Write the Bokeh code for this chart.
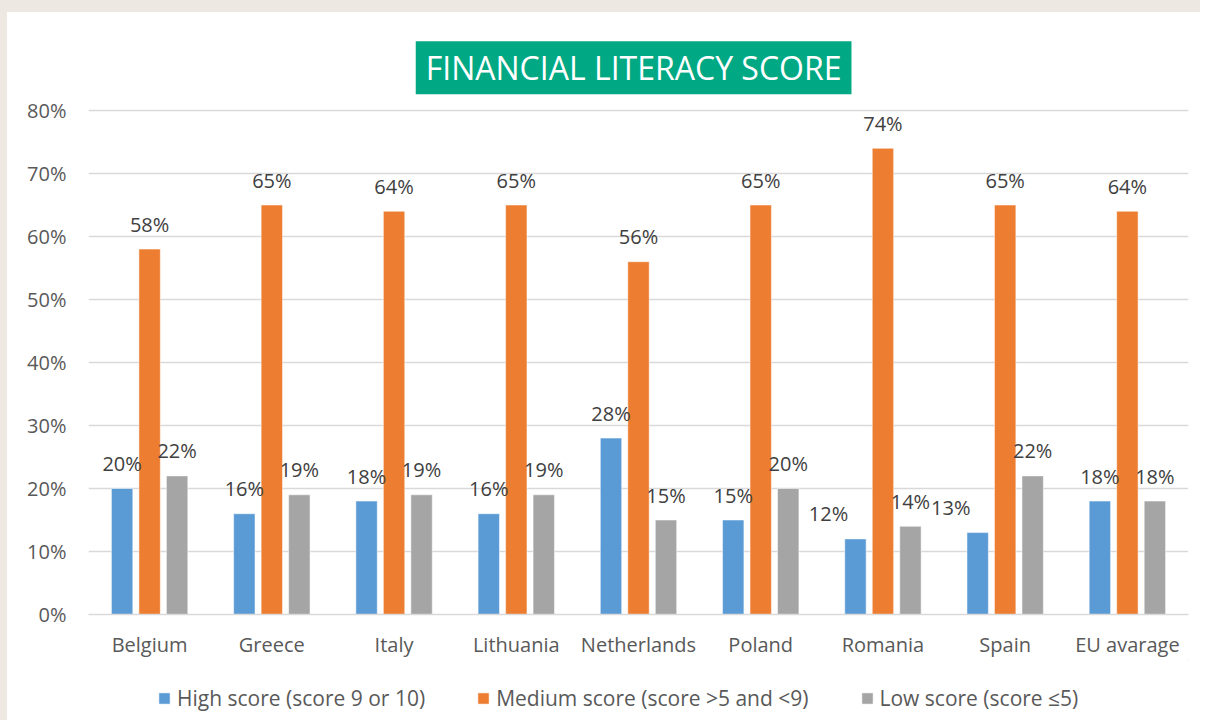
from bokeh.plotting import figure
from bokeh.layouts import column
from bokeh.models import ColumnDataSource, FactorRange, Legend, LegendItem, Label, NumeralTickFormatter, Range1d
from bokeh.transform import dodge
from bokeh.core.properties import value
from bokeh.embed import file_html
from bokeh.resources import INLINE

countries = ["Belgium", "Greece", "Italy", "Lithuania", "Netherlands", "Poland", "Romania", "Spain", "EU avarage"]
high = [0.20, 0.16, 0.18, 0.16, 0.28, 0.15, 0.12, 0.13, 0.18]
medium = [0.58, 0.65, 0.64, 0.65, 0.56, 0.65, 0.74, 0.65, 0.64]
low = [0.22, 0.19, 0.19, 0.19, 0.15, 0.20, 0.14, 0.22, 0.18]
series_names = ["High score (score 9 or 10)", "Medium score (score >5 and <9)", "Low score (score \u22645)"]
y_ticks = [0, 0.1, 0.2, 0.3, 0.4, 0.5, 0.6, 0.7, 0.8]

colors = ["#5B9BD5", "#ED7D31", "#A5A5A5"]
FONT = "Open Sans"

# labels that Excel nudged to the left (avoiding collisions)
shifted_high = {"Romania", "Spain"}

src = ColumnDataSource(dict(
    country=countries, high=high, medium=medium, low=low,
    high_txt=[f"{round(v*100)}%" for v in high],
    medium_txt=[f"{round(v*100)}%" for v in medium],
    low_txt=[f"{round(v*100)}%" for v in low],
))
hi_main = dict(country=[], high=[], high_txt=[])
hi_shift = dict(country=[], high=[], high_txt=[])
for c, v in zip(countries, high):
    d = hi_shift if c in shifted_high else hi_main
    d["country"].append(c); d["high"].append(v); d["high_txt"].append(f"{round(v*100)}%")

# extra headroom above 80% holds the title box
p = figure(width=1193, height=648, x_range=FactorRange(*countries), y_range=Range1d(0, 0.9143),
           output_backend="svg", toolbar_location=None,
           min_border_left=81, min_border_right=12, min_border_top=26, min_border_bottom=46,
           margin=(12, 0, 0, 7), styles={"background-color": "white"})
p.background_fill_color = "white"
p.border_fill_color = "white"
p.outline_line_color = None

w = 0.175
off = 0.225
keys = ["high", "medium", "low"]
renderers = []
for i, k in enumerate(keys):
    r = p.vbar(x=dodge("country", (i - 1) * off, range=p.x_range), top=k, width=w, source=src,
               fill_color=colors[i], line_color="white", line_width=0.5)
    renderers.append(r)

lbl_style = dict(text_font=value(FONT), text_font_size="20px", text_color="#404040",
                 text_align="center", text_baseline="middle", y_offset=-25)
p.text(x=dodge("country", -off, range=p.x_range), y="high", text="high_txt",
       source=ColumnDataSource(hi_main), **lbl_style)
p.text(x=dodge("country", -off - 0.22, range=p.x_range), y="high", text="high_txt",
       source=ColumnDataSource(hi_shift), **lbl_style)
p.text(x=dodge("country", 0, range=p.x_range), y="medium", text="medium_txt", source=src, **lbl_style)
p.text(x=dodge("country", off, range=p.x_range), y="low", text="low_txt", source=src, **lbl_style)

# axes
p.yaxis.ticker = y_ticks
p.yaxis.formatter = NumeralTickFormatter(format="0%")
p.yaxis.axis_line_color = None
p.yaxis.major_tick_line_color = None
p.yaxis.minor_tick_line_color = None
p.yaxis.major_label_standoff = 16
p.yaxis.major_label_text_font = FONT
p.yaxis.major_label_text_font_size = "20px"
p.yaxis.major_label_text_color = "#595959"

p.xaxis.axis_line_color = "#D9D9D9"
p.xaxis.axis_line_width = 1.5
p.xaxis.major_tick_line_color = None
p.xaxis.minor_tick_line_color = None
p.xaxis.major_label_standoff = 10
p.xaxis.major_label_text_font = FONT
p.xaxis.major_label_text_font_size = "20px"
p.xaxis.major_label_text_color = "#595959"

p.xgrid.grid_line_color = None
p.ygrid.grid_line_color = "#D9D9D9"
p.ygrid.grid_line_width = 1.5

title = Label(x=4.46, y=0.868, text="FINANCIAL LITERACY SCORE", text_font=FONT, text_font_size="32px",
              text_color="white", text_align="center", text_baseline="middle",
              background_fill_color="#00A983", padding=(10, 5))
p.add_layout(title)

# legend strip (separate small plot so that the legend is not clipped)
q = figure(width=1193, height=60, x_range=Range1d(0, 1), y_range=Range1d(0, 1),
           output_backend="svg", toolbar_location=None, x_axis_location=None, y_axis_location=None,
           min_border_left=0, min_border_right=0, min_border_top=0, min_border_bottom=0,
           margin=(0, 0, 0, 7), styles={"background-color": "white"})
q.outline_line_color = None
q.grid.visible = False
q.background_fill_color = "white"
q.border_fill_color = "white"
# swatch renderers sit outside the visible range; they only feed the legend
swatches = [q.vbar(x=[5], top=[5], bottom=[4], width=0.1, fill_color=c, line_color="white", line_width=0.5)
            for c in colors]
legend = Legend(items=[LegendItem(label=series_names[i], renderers=[swatches[i]]) for i in range(3)],
                orientation="horizontal", location=(69, 8),
                label_text_font=FONT, label_text_font_size="21px", label_text_color="#595959",
                glyph_width=14, glyph_height=14, label_standoff=6, spacing=51,
                border_line_color=None, background_fill_alpha=0, margin=0, padding=0)
q.add_layout(legend, "center")

layout = column(p, q, spacing=0, styles={"background-color": "#EEE8E3"})
open("out.html", "w").write(file_html(layout, INLINE))
